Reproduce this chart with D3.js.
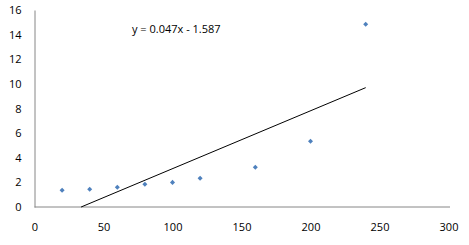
<!DOCTYPE html>
<html>
<head>
<meta charset="utf-8">
<script src="https://cdn.jsdelivr.net/npm/d3@7.9.0/dist/d3.min.js"></script>
<style>
  body { margin: 0; background: #fff; }
  svg text { font-family: "Open Sans", "Liberation Sans", sans-serif; font-size: 11px; fill: #000; }
</style>
</head>
<body>
<svg width="469" height="245"></svg>
<script>
const xValues = [20, 40, 60, 80, 100, 120, 160, 200, 240];
const yValues = [1.36, 1.44, 1.6, 1.84, 2.0, 2.33, 3.22, 5.34, 14.84];
const xTicks = [0, 50, 100, 150, 200, 250, 300];
const yTicks = [0, 2, 4, 6, 8, 10, 12, 14, 16];
const slope = 0.047;
const intercept = -1.587;

const svg = d3.select('svg');
const x = d3.scaleLinear().domain([0, 300]).range([34.5, 448.5]);
const y = d3.scaleLinear().domain([0, 16]).range([207, 10]);

// axes (no tick marks, Excel style)
const xAxis = svg.append('g')
  .attr('transform', `translate(0,${y(0)})`)
  .call(d3.axisBottom(x).tickValues(xTicks).tickSize(0).tickPadding(16));
xAxis.select('.domain').attr('stroke', '#868686').attr('d', `M${x(0)},0H450`);

const yAxis = svg.append('g')
  .attr('transform', `translate(${x(0)},0)`)
  .call(d3.axisLeft(y).tickValues(yTicks).tickSize(0).tickPadding(13));
yAxis.select('.domain').attr('stroke', '#868686');
svg.selectAll('.tick text').attr('fill', '#000');

// trendline, clipped at y = 0
const xStart = -intercept / slope;
const xEnd = d3.max(xValues);
svg.append('line')
  .attr('x1', x(xStart)).attr('y1', y(slope * xStart + intercept))
  .attr('x2', x(xEnd)).attr('y2', y(slope * xEnd + intercept))
  .attr('stroke', '#000').attr('stroke-width', 1);

// points
const diamond = d3.symbol().type(d3.symbolDiamond2).size(16);
svg.append('g').selectAll('path')
  .data(xValues)
  .join('path')
  .attr('d', diamond)
  .attr('transform', (d, i) => `translate(${x(d)},${y(yValues[i])})`)
  .attr('fill', '#4f81bd');

svg.append('text')
  .attr('x', 132).attr('y', 33)
  .text(`y = ${slope.toFixed(3)}x - ${Math.abs(intercept).toFixed(3)}`);
</script>
</body>
</html>
